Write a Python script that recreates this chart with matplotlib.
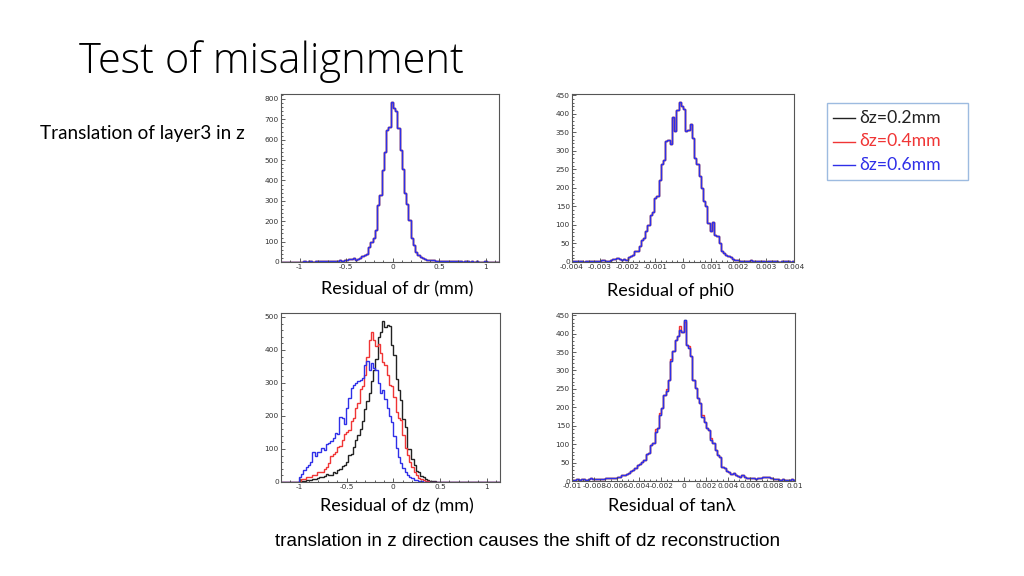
import matplotlib.pyplot as plt
import numpy as np
from matplotlib.ticker import MultipleLocator, FuncFormatter

plt.rcParams['axes.unicode_minus'] = False

# ---- data: bin contents (100 bins each) ----
dr_edges = np.linspace(-1.2, 1.2, 101)
dr_counts = [0, 0, 0, 1, 0, 1, 0, 1, 1, 2,
             3, 2, 4, 3, 2, 4, 3, 5, 4, 3,
             5, 4, 6, 5, 7, 6, 8, 7, 9, 10,
             14, 16, 18, 8, 16, 22, 30, 36, 40, 72,
             98, 118, 159, 281, 330, 453, 540, 645, 660, 785,
             755, 742, 658, 550, 455, 340, 285, 208, 118, 82,
             48, 35, 25, 18, 14, 12, 10, 8, 9, 7,
             6, 5, 6, 4, 5, 3, 4, 5, 3, 4,
             3, 2, 4, 3, 2, 3, 2, 4, 2, 1,
             2, 3, 1, 2, 1, 1, 0, 1, 0, 0]

phi0_edges = np.linspace(-0.004, 0.004, 101)
phi0_counts = [3, 2, 2, 3, 2, 1, 2, 3, 2, 2,
               3, 2, 3, 5, 6, 4, 3, 5, 7, 8,
               11, 9, 5, 9, 6, 13, 15, 20, 29, 31,
               42, 60, 65, 83, 101, 128, 135, 173, 177, 220,
               265, 276, 326, 328, 317, 390, 353, 409, 432, 420,
               412, 353, 355, 373, 335, 281, 263, 231, 200, 164,
               150, 105, 83, 107, 74, 69, 51, 29, 24, 20,
               15, 13, 9, 6, 5, 4, 3, 4, 2, 3,
               5, 3, 2, 4, 3, 2, 3, 1, 2, 3,
               2, 2, 3, 1, 2, 3, 2, 2, 1, 2]

dz_edges = np.linspace(-1.2, 1.2, 101)
dz_02 = [0, 0, 0, 0, 0, 0, 0, 0, 2, 3,
         3, 5, 5, 7, 8, 10, 12, 16, 14, 18,
         25, 20, 22, 30, 28, 35, 40, 48, 52, 62,
         82, 85, 105, 128, 142, 160, 185, 220, 245, 270,
         305, 340, 373, 440, 455, 487, 470, 477, 472, 414,
         385, 313, 280, 247, 191, 166, 100, 100, 70, 50,
         34, 29, 19, 14, 10, 6, 4, 3, 2, 1,
         1, 0, 1, 0, 0, 0, 0, 0, 0, 0,
         0, 0, 0, 0, 0, 0, 0, 0, 0, 0,
         0, 0, 0, 0, 0, 0, 0, 0, 0, 0]
dz_04 = [0, 0, 0, 0, 0, 0, 0, 0, 3, 8,
         10, 14, 16, 16, 20, 22, 29, 30, 31, 40,
         44, 57, 80, 84, 92, 105, 110, 128, 145, 150,
         158, 185, 195, 224, 240, 282, 290, 325, 380, 431,
         453, 431, 411, 418, 390, 365, 355, 325, 295, 290,
         259, 213, 195, 188, 143, 102, 82, 60, 45, 31,
         21, 11, 8, 5, 3, 2, 1, 0, 0, 0,
         0, 0, 0, 0, 0, 0, 0, 0, 0, 0,
         0, 0, 0, 0, 0, 0, 0, 0, 0, 0,
         0, 0, 0, 0, 0, 0, 0, 0, 0, 0]
dz_06 = [0, 0, 0, 0, 0, 0, 0, 0, 15, 25,
         36, 45, 52, 62, 92, 80, 92, 90, 102, 98,
         115, 117, 125, 133, 148, 145, 198, 193, 175, 224,
         254, 284, 295, 300, 305, 310, 315, 355, 367, 340,
         360, 345, 340, 300, 270, 280, 250, 224, 200, 183,
         138, 102, 77, 57, 41, 30, 20, 16, 11, 7,
         5, 3, 2, 1, 0, 0, 0, 0, 0, 0,
         0, 0, 0, 0, 0, 0, 0, 0, 0, 0,
         0, 0, 0, 0, 0, 0, 0, 0, 0, 0,
         0, 0, 0, 0, 0, 0, 0, 0, 0, 0]

tanl_edges = np.linspace(-0.01, 0.01, 101)
tanl_counts = [4, 3, 5, 4, 6, 5, 4, 6, 7, 5,
               5, 5, 5, 5, 5, 7, 7, 7, 9, 9,
               12, 12, 15, 16, 19, 21, 27, 30, 36, 44,
               45, 51, 57, 73, 75, 98, 103, 134, 143, 180,
               198, 234, 243, 275, 325, 352, 384, 393, 410, 405,
               438, 368, 361, 338, 275, 252, 225, 211, 175, 161,
               143, 139, 112, 103, 84, 71, 66, 39, 34, 27,
               24, 18, 21, 16, 14, 12, 16, 10, 9, 8,
               7, 8, 6, 7, 9, 10, 12, 11, 10, 8,
               6, 5, 5, 4, 5, 4, 3, 4, 5, 4]
tanl_04 = [4, 3, 5, 4, 6, 5, 4, 6, 7, 5,
           5, 5, 5, 5, 5, 7, 7, 7, 9, 9,
           12, 12, 15, 16, 19, 21, 27, 30, 36, 44,
           45, 51, 57, 73, 75, 98, 103, 140, 143, 185,
           198, 234, 250, 275, 330, 352, 384, 393, 422, 405,
           432, 368, 366, 338, 275, 252, 225, 211, 178, 161,
           143, 139, 116, 103, 84, 71, 66, 39, 34, 27,
           24, 18, 21, 16, 14, 12, 16, 10, 9, 8,
           7, 8, 6, 7, 9, 10, 12, 11, 10, 8,
           6, 5, 5, 4, 5, 4, 3, 4, 5, 4]

legend_labels = ['δz=0.2mm', 'δz=0.4mm', 'δz=0.6mm']
colors = ['#222222', '#f03535', '#2f2fe8']

W, H = 1024, 576
fig = plt.figure(figsize=(W / 100, H / 100), dpi=100)
fig.patch.set_facecolor('white')


def box(l, t, r, b):
    return [l / W, 1 - b / H, (r - l) / W, (b - t) / H]


def fx(x):
    return x / W


def fy(y):
    return 1 - y / H


def root_axes(rect, xlim, ylim, xmaj, xmin, ymaj, ymin):
    ax = fig.add_axes(rect)
    ax.set_xlim(*xlim)
    ax.set_ylim(*ylim)
    ax.xaxis.set_major_locator(MultipleLocator(xmaj))
    ax.xaxis.set_minor_locator(MultipleLocator(xmin))
    ax.yaxis.set_major_locator(MultipleLocator(ymaj))
    ax.yaxis.set_minor_locator(MultipleLocator(ymin))
    ax.xaxis.set_major_formatter(FuncFormatter(lambda v, p: '{:g}'.format(round(v, 6))))
    ax.tick_params(which='both', direction='in', top=False, right=False,
                   labelsize=5.3, labelcolor='#333333', color='#444444', width=0.6, pad=1.5)
    ax.tick_params(which='major', length=3)
    ax.tick_params(which='minor', length=1.5)
    for s in ax.spines.values():
        s.set_color('#555555')
        s.set_linewidth(0.8)
    return ax


# top left: dr
ax1 = root_axes(box(281, 94, 499, 262), (-1.2, 1.14), (0, 824), 0.5, 0.1, 100, 20)
for c in colors:
    ax1.stairs(dr_counts, dr_edges, color=c, lw=1.0)

# top right: phi0
ax2 = root_axes(box(572, 94, 794, 262), (-0.004, 0.004), (0, 453), 0.001, 0.0002, 50, 10)
for c in colors:
    ax2.stairs(phi0_counts, phi0_edges, color=c, lw=1.0)

# bottom left: dz
ax3 = root_axes(box(281, 313, 500, 482), (-1.2, 1.14), (0, 512), 0.5, 0.1, 100, 20)
for vals, c in zip([dz_02, dz_04, dz_06], colors):
    ax3.stairs(vals, dz_edges, color=c, lw=1.0)

# bottom right: tan lambda
ax4 = root_axes(box(572, 313, 795, 481), (-0.01, 0.01), (0, 456), 0.002, 0.0005, 50, 10)
for vals, c in zip([tanl_counts, tanl_04, tanl_counts], colors):
    ax4.stairs(vals, tanl_edges, color=c, lw=1.0)

# slide texts
fam = ['Lato', 'DejaVu Sans']
fig.text(fx(79), fy(62), 'Test of misalignment', fontsize=30, family=['Open Sans', 'DejaVu Sans'],
         fontweight='light', va='center', ha='left', color='black')
fig.text(fx(40), fy(133), 'Translation of layer3 in z', fontsize=13.6, family=fam,
         va='center', ha='left')
fig.text(fx(397), fy(289), 'Residual of dr (mm)', fontsize=13, family=fam, va='center', ha='center')
fig.text(fx(670), fy(291), 'Residual of phi0', fontsize=13, family=fam, va='center', ha='center')
fig.text(fx(397), fy(506), 'Residual of dz (mm)', fontsize=13, family=fam, va='center', ha='center')
fig.text(fx(672), fy(506), 'Residual of tanλ', fontsize=13, family=fam, va='center', ha='center')
fig.text(fx(528), fy(541), 'translation in z direction causes the shift of dz reconstruction',
         fontsize=13.7, family='Liberation Sans', va='center', ha='center')

# legend box
fig.patches.append(plt.Rectangle((fx(827), fy(180)), (968 - 827) / W, (180 - 103) / H,
                                 transform=fig.transFigure, fill=False,
                                 edgecolor='#9dbbe0', lw=1))
for i, (lab, c) in enumerate(zip(legend_labels, colors)):
    yy = 118 + i * 23.5
    fig.lines.append(plt.Line2D([fx(833), fx(855)], [fy(yy), fy(yy)],
                                transform=fig.transFigure, color=c, lw=1))
    fig.text(fx(859), fy(yy), lab, fontsize=12.7, family=fam, color=c,
             va='center', ha='left')

fig.savefig('out.png', dpi=100)
